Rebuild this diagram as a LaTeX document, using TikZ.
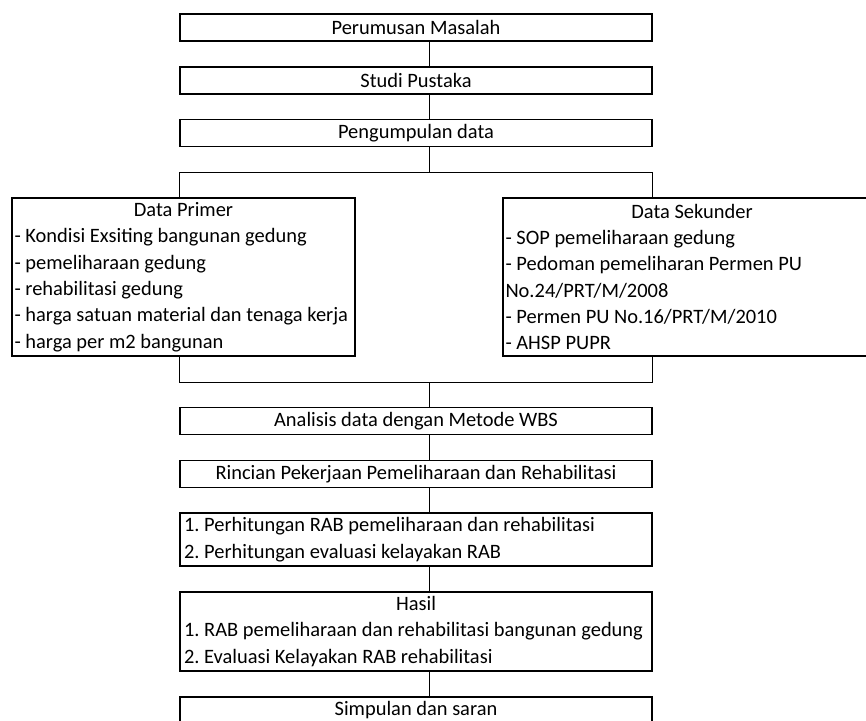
\documentclass[tikz,border=0pt]{standalone}
\usepackage{fontspec}
\setmainfont{Carlito}
\usepackage{tikz}

\tikzset{
  box/.style={draw,line width=1.5pt,minimum height=27pt,inner sep=0pt,
    font=\fontsize{20.45}{26.3}\selectfont\frenchspacing},
  stepbox/.style={box,minimum width=472pt},
  listbox/.style={box,align=flush left,inner xsep=2.5pt,inner ysep=0pt},
  link/.style={line width=0.9pt},
}

\begin{document}
\begin{tikzpicture}[x=1pt,y=-1pt]
\useasboundingbox (0,0) rectangle (866,720);
\coordinate (spine) at (429,0); % common vertical line
\coordinate (split) at (0,172);
\coordinate (merge) at (0,382);

\node[stepbox] (masalah) at (416,27.5) {Perumusan Masalah};
\node[stepbox] (pustaka) at (416,80.5) {Studi Pustaka};
\node[stepbox] (kumpul) at (416,133) {Pengumpulan data};

\node[listbox,text width=338pt,minimum height=158pt] (primer) at (183.5,277)
  {\makebox[\hsize]{Data Primer}\\
   - Kondisi Exsiting bangunan gedung\\
   - pemeliharaan gedung\\
   - rehabilitasi gedung\\
   - harga satuan material dan tenaga kerja\\
   - harga per m2 bangunan};
\node[listbox,text width=373pt,minimum height=158pt] (sekunder) at (692,277)
  {\makebox[\hsize]{Data Sekunder}\\
   - SOP pemeliharaan gedung\\
   - Pedoman pemeliharan Permen PU\\
   No.24/PRT/M/2008\\
   - Permen PU No.16/PRT/M/2010\\
   - AHSP PUPR};

\node[stepbox] (analisis) at (416,421) {Analisis data dengan Metode WBS};
\node[stepbox] (rincian) at (416,474) {Rincian Pekerjaan Pemeliharaan dan Rehabilitasi};
\node[listbox,inner xsep=4pt,text width=464pt,minimum height=53pt] (hitung) at (416,539.5)
  {1. Perhitungan RAB pemeliharaan dan rehabilitasi\\
   2. Perhitungan evaluasi kelayakan RAB};
\node[listbox,inner xsep=4pt,text width=464pt,minimum height=79pt] (hasil) at (416,631.5)
  {\makebox[\hsize]{Hasil}\\
   1. RAB pemeliharaan dan rehabilitasi bangunan gedung\\
   2. Evaluasi Kelayakan RAB rehabilitasi};
\node[stepbox] (simpulan) at (416,710.5) {Simpulan dan saran};

\draw[link] (masalah.south -| spine) -- (pustaka.north -| spine);
\draw[link] (pustaka.south -| spine) -- (kumpul.north -| spine);
\draw[link] (kumpul.south -| spine) -- (spine |- split);
\draw[link] (primer.north -| kumpul.west) -- (kumpul.west |- split) -- (kumpul.east |- split) -- (sekunder.north -| kumpul.east);
\draw[link] (primer.south -| analisis.west) -- (analisis.west |- merge) -- (analisis.east |- merge) -- (sekunder.south -| analisis.east);
\draw[link] (spine |- merge) -- (analisis.north -| spine);
\draw[link] (analisis.south -| spine) -- (rincian.north -| spine);
\draw[link] (rincian.south -| spine) -- (hitung.north -| spine);
\draw[link] (hitung.south -| spine) -- (hasil.north -| spine);
\draw[link] (hasil.south -| spine) -- (simpulan.north -| spine);

\end{tikzpicture}
\end{document}
